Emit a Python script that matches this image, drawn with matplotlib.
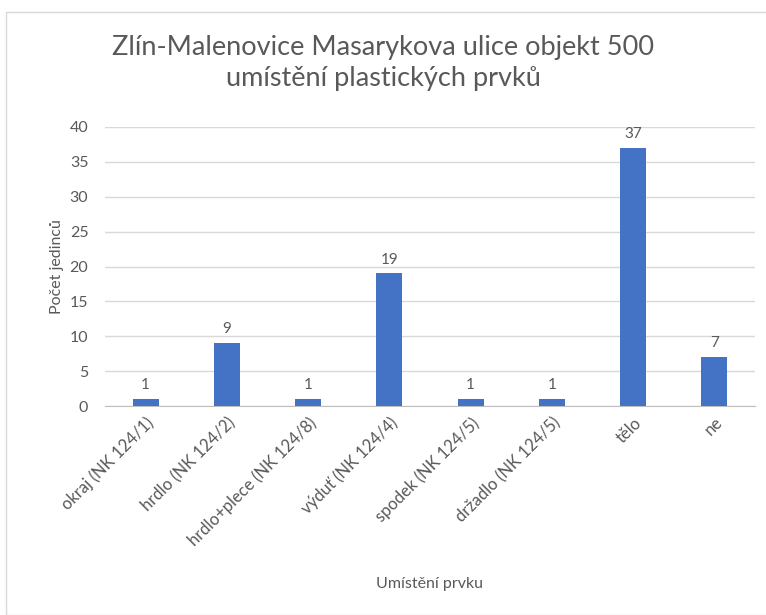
import matplotlib.pyplot as plt
from matplotlib.patches import Rectangle

categories = [
    "okraj (NK 124/1)",
    "hrdlo (NK 124/2)",
    "hrdlo+plece (NK 124/8)",
    "výduť (NK 124/4)",
    "spodek (NK 124/5)",
    "držadlo (NK 124/5)",
    "tělo",
    "ne",
]
counts = [1, 9, 1, 19, 1, 1, 37, 7]
y_ticks = [0, 5, 10, 15, 20, 25, 30, 35, 40]

BAR = "#4472C4"
TEXT = "#595959"
GRID = "#D9D9D9"

plt.rcParams["font.family"] = ["Lato", "DejaVu Sans"]

fig = plt.figure(figsize=(7.66, 6.15), dpi=100)
fig.patch.set_facecolor("white")

# light chart-area border
fig.patches.append(Rectangle((6 / 766, 0.0), 0.995, 1 - 12 / 615,
                             transform=fig.transFigure, fill=False,
                             edgecolor="#D9D9D9", linewidth=1.0))

ax = fig.add_axes([105 / 766, 1 - 406 / 615, 650 / 766, (406 - 127) / 615])
x = range(len(categories))
bars = ax.bar(x, counts, width=0.32, color=BAR, zorder=3)

for rect, val in zip(bars, counts):
    ax.text(rect.get_x() + rect.get_width() / 2, val + 1.0, str(val),
            ha="center", va="bottom", fontsize=11, color=TEXT)

ax.set_xlim(-0.5, len(categories) - 0.5)
ax.set_ylim(0, 40)
ax.set_yticks(y_ticks)
ax.yaxis.grid(True, color=GRID, linewidth=1.0, zorder=0)
ax.set_axisbelow(True)

for side in ("top", "right", "left"):
    ax.spines[side].set_visible(False)
ax.spines["bottom"].set_color("#BFBFBF")

ax.tick_params(axis="both", length=0, colors=TEXT)
ax.tick_params(axis="y", pad=12, labelsize=11.5)
ax.tick_params(axis="x", pad=6, labelsize=12)
ax.set_xticks(list(x))
ax.set_xticklabels(categories, rotation=45, ha="right", rotation_mode="anchor")

ax.set_ylabel("Počet jedinců", color=TEXT, fontsize=11.5, labelpad=4)
ax.set_xlabel("Umístění prvku", color=TEXT, fontsize=11.5, labelpad=20)

fig.text(0.5, 1 - 63 / 615,
         "Zlín-Malenovice Masarykova ulice objekt 500\numístění plastických prvků",
         ha="center", va="center", fontsize=19.5, color=TEXT, linespacing=1.3)

fig.savefig("out.png", dpi=100)
